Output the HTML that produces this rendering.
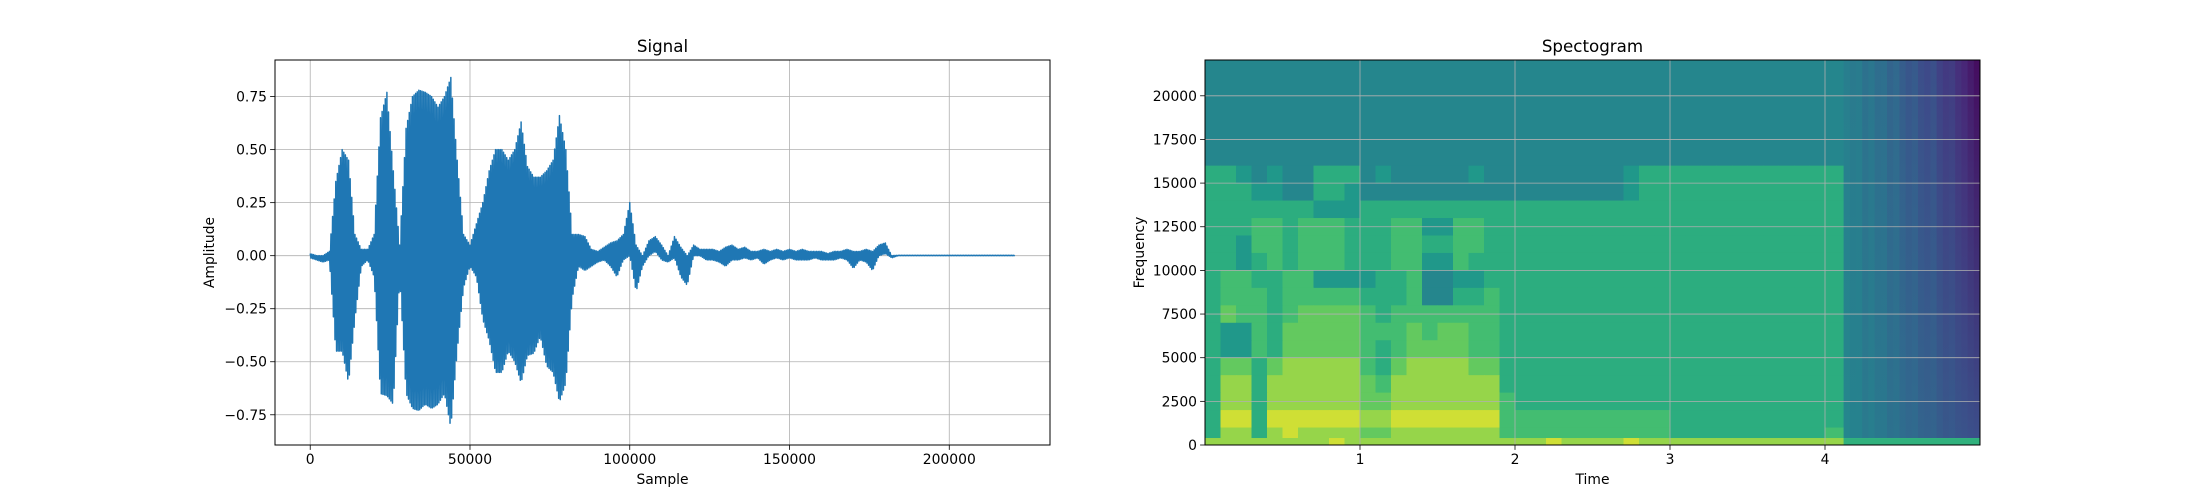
<!DOCTYPE html>
<html><head><meta charset="utf-8"><style>
html,body{margin:0;padding:0;background:#fff}
svg{display:block;font-family:"DejaVu Sans","Liberation Sans",sans-serif}
</style></head><body>
<svg id="fig" width="2200" height="500" viewBox="0 0 2200 500" xmlns="http://www.w3.org/2000/svg"></svg>
<script>
// ---------- Signal data (envelope every 2000 samples) ----------
const sigStep = 2000;
const sigUpper = [0.01,0.0,0.0,0.02,0.35,0.5,0.45,0.1,0.03,0.03,0.1,0.65,0.77,0.4,0.05,0.6,0.75,0.78,0.77,0.75,0.7,0.75,0.84,0.45,0.1,0.05,0.15,0.25,0.4,0.5,0.5,0.45,0.5,0.63,0.42,0.37,0.37,0.4,0.45,0.66,0.5,0.1,0.1,0.09,0.03,0.02,0.04,0.06,0.07,0.1,0.25,0.05,0.0,0.07,0.09,0.05,0.0,0.09,0.04,0.0,0.05,0.03,0.03,0.03,0.02,0.04,0.05,0.03,0.04,0.02,0.02,0.03,0.02,0.03,0.02,0.03,0.02,0.03,0.02,0.02,0.02,0.01,0.02,0.02,0.03,0.02,0.02,0.03,0.02,0.05,0.06,0.0,0.002,0.002,0.002,0.002,0.002,0.002,0.002,0.002,0.002,0.002,0.002,0.002,0.002,0.002,0.002,0.002,0.002,0.002,0.002];
const sigLower = [-0.01,-0.02,-0.03,-0.02,-0.45,-0.45,-0.6,-0.3,-0.05,-0.02,-0.1,-0.65,-0.66,-0.7,-0.1,-0.65,-0.72,-0.73,-0.7,-0.72,-0.7,-0.65,-0.81,-0.45,-0.15,-0.05,-0.1,-0.3,-0.4,-0.55,-0.55,-0.45,-0.5,-0.6,-0.47,-0.46,-0.38,-0.52,-0.55,-0.69,-0.6,-0.2,-0.05,-0.07,-0.05,-0.03,-0.02,-0.05,-0.1,-0.02,0.0,-0.17,-0.05,0.0,0.02,-0.02,-0.03,-0.01,-0.1,-0.14,0.0,0.0,-0.02,-0.02,-0.03,-0.05,-0.02,-0.02,-0.01,-0.02,-0.01,-0.04,-0.02,-0.01,-0.02,-0.01,-0.02,-0.02,-0.02,-0.01,-0.02,-0.02,-0.02,-0.01,-0.02,-0.06,-0.02,-0.03,-0.07,0.0,0.01,-0.01,0.0,0.0,0.0,0.0,0.0,0.0,0.0,0.0,0.0,0.0,0.0,0.0,0.0,0.0,0.0,0.0,0.0,0.0,0.0];
const sigXTicks = [0,50000,100000,150000,200000];
const sigYTicks = [-0.75,-0.5,-0.25,0,0.25,0.5,0.75];
const sigYLabels = ["\u22120.75","\u22120.50","\u22120.25","0.00","0.25","0.50","0.75"];

// ---------- Spectrogram data ----------
const specTimeEdges = [0,0.1,0.2,0.3,0.4,0.5,0.6,0.7,0.8,0.9,1.0,1.1,1.2,1.3,1.4,1.5,1.6,1.7,1.8,1.9,2.0,2.1,2.2,2.3,2.4,2.5,2.6,2.7,2.8,2.9,3.0,3.1,3.2,3.3,3.4,3.5,3.6,3.7,3.8,3.9,4.0,4.12];
const specFreqEdges = [22050,16000,15000,14000,13000,12000,11000,10000,9000,8000,7000,6000,5000,4000,3000,2000,1000,400,0];
const specRows = [
"33333333333333333333333333333333333333333",
"55434335553433333433333333345555555555555",
"55544335543333333333333333345555555555555",
"55555554445555555555555555555555555555555",
"55566566655566446655555555555555555555555",
"55466566655566556655555555555555555555555",
"55456566655566446555555555555555555555555",
"56655664444556334455555555555555555555555",
"56665666665556335565555555555555555555555",
"57665677776566666665555555555555555555555",
"54465777776667677665555555555555555555555",
"54465777776567777665555555555555555555555",
"57757888886578888775555555555555555555555",
"58858888887688888885555555555555555555555",
"58858888887788888886555555555555555555555",
"59959999998899999996666666666655555555555",
"58858988887788888886666666666655555555556",
"88888888988888888888889888898888888888888"
];
const levelFrac = [0.0,0.1,0.3,0.52,0.6,0.7,0.78,0.85,0.91,0.96];
const tailStart = 4.12, tailStep = 0.04;
const tailTop = [0.48,0.46,0.47,0.42,0.44,0.40,0.41,0.36,0.38,0.33,0.30,0.32,0.27,0.25,0.28,0.22,0.19,0.2,0.15,0.12,0.08,0.04];
const tailBottom = [0.52,0.5,0.5,0.46,0.48,0.45,0.45,0.42,0.43,0.40,0.38,0.39,0.36,0.35,0.36,0.33,0.31,0.32,0.3,0.29,0.28,0.27];
const tailFloor = 0.72;
const specXTicks = [1,2,3,4];
const specYTicks = [0,2500,5000,7500,10000,12500,15000,17500,20000];

// ---------- helpers ----------
const NS="http://www.w3.org/2000/svg";
const svg=document.getElementById('fig');
function mk(tag,attrs,parent){const e=document.createElementNS(NS,tag);for(const k in attrs)e.setAttribute(k,attrs[k]);(parent||svg).appendChild(e);return e;}
const vir=[[68,1,84],[72,40,120],[62,73,137],[49,104,142],[38,130,142],[31,158,137],[53,183,121],[110,206,88],[253,231,37]];
function viridis(t){t=Math.max(0,Math.min(1,t));const p=t*8,i=Math.min(7,Math.floor(p)),f=p-i;const a=vir[i],b=vir[i+1];return 'rgb('+a.map((v,k)=>Math.round(v+(b[k]-v)*f)).join(',')+')';}

const axTop=60,axBot=445;
// ======== Signal axes ========
const A={x0:275,x1:1050};
const sxMin=-11025,sxMax=231525,syMin=-0.8925,syMax=0.9225;
const sx=v=>A.x0+(v-sxMin)/(sxMax-sxMin)*(A.x1-A.x0);
const sy=v=>axBot-(v-syMin)/(syMax-syMin)*(axBot-axTop);
const g1=mk('g',{});


mk('rect',{x:A.x0,y:axTop,width:A.x1-A.x0,height:axBot-axTop,fill:'#fff'},g1);
sigXTicks.forEach(v=>{const l=mk('line',{x1:sx(v),x2:sx(v),y1:axTop,y2:axBot,stroke:'#b0b0b0','stroke-width':0.8},g1);});
sigYTicks.forEach(v=>{const l=mk('line',{x1:A.x0,x2:A.x1,y1:sy(v),y2:sy(v),stroke:'#b0b0b0','stroke-width':0.8},g1);});
// waveform
let d='';const K=8;
for(let i=0;i<sigUpper.length;i++){
  const nU=i+1<sigUpper.length?sigUpper[i+1]:sigUpper[i];
  const nL=i+1<sigLower.length?sigLower[i+1]:sigLower[i];
  for(let k=0;k<K;k++){
    const f=k/K, s=i*sigStep+f*sigStep;
    if(s>220500)break;
    const u=sigUpper[i]+(nU-sigUpper[i])*f, lo=sigLower[i]+(nL-sigLower[i])*f;
    const v=(k%2===0)?u:lo;
    d+=(d?'L':'M')+sx(s).toFixed(2)+' '+sy(v).toFixed(2);
  }
}
d+='L'+sx(220500).toFixed(2)+' '+sy(0.002).toFixed(2);
const wave=mk('path',{d:d,fill:'none',stroke:'#1f77b4','stroke-width':1.5,'stroke-linejoin':'round'},g1);


mk('rect',{x:A.x0,y:axTop,width:A.x1-A.x0,height:axBot-axTop,fill:'none',stroke:'#000','stroke-width':1},g1);
sigXTicks.forEach(v=>{mk('line',{x1:sx(v),x2:sx(v),y1:axBot,y2:axBot+4.9,stroke:'#000','stroke-width':0.8},g1);
  const t=mk('text',{x:sx(v),y:axBot+19,'text-anchor':'middle','font-size':13.9},g1);t.textContent=String(v);
  });
sigYTicks.forEach((v,i)=>{mk('line',{x1:A.x0-4.9,x2:A.x0,y1:sy(v),y2:sy(v),stroke:'#000','stroke-width':0.8},g1);
  const t=mk('text',{x:A.x0-8,y:sy(v)+5,'text-anchor':'end','font-size':13.9},g1);t.textContent=sigYLabels[i];
  });
let tt=mk('text',{x:(A.x0+A.x1)/2,y:52,'text-anchor':'middle','font-size':16.7},g1);tt.textContent='Signal';

tt=mk('text',{x:(A.x0+A.x1)/2,y:484,'text-anchor':'middle','font-size':13.9},g1);tt.textContent='Sample';

tt=mk('text',{x:0,y:0,'text-anchor':'middle','font-size':13.9,transform:'translate(214,'+((axTop+axBot)/2)+') rotate(-90)'},g1);tt.textContent='Amplitude';


// ======== Spectrogram axes ========
const B={x0:1205,x1:1980};
const txMax=5.0,fyMax=22050;
const tx=v=>B.x0+v/txMax*(B.x1-B.x0);
const fy=v=>axBot-v/fyMax*(axBot-axTop);
const g2=mk('g',{});


for(let r=0;r<specRows.length;r++){
  const yT=fy(specFreqEdges[r]),yB=fy(specFreqEdges[r+1]);
  for(let c=0;c<specTimeEdges.length-1;c++){
    const lv=+specRows[r][c];
    const x0=tx(specTimeEdges[c]),x1=tx(specTimeEdges[c+1]);
    const cell=mk('rect',{x:x0,y:yT,width:x1-x0+0.5,height:yB-yT+0.5,fill:viridis(levelFrac[lv])},g2);
    
    
  }
}
const defs=mk('defs',{},g2);
tailTop.forEach((v,i)=>{
  const gid='tg'+i;
  const lg=mk('linearGradient',{id:gid,x1:0,y1:0,x2:0,y2:1},defs);
  mk('stop',{offset:0,'stop-color':viridis(v)},lg);
  mk('stop',{offset:1,'stop-color':viridis(tailBottom[i])},lg);
  const x0=tx(tailStart+i*tailStep),x1=tx(Math.min(txMax,tailStart+(i+1)*tailStep));
  const col=mk('rect',{x:x0,y:axTop,width:x1-x0+0.4,height:fy(400)-axTop,fill:'url(#'+gid+')'},g2);
  
  
});
const fl=mk('rect',{x:tx(tailStart),y:fy(400),width:B.x1-tx(tailStart),height:axBot-fy(400),fill:viridis(tailFloor)},g2);


specXTicks.forEach(v=>{const l=mk('line',{x1:tx(v),x2:tx(v),y1:axTop,y2:axBot,stroke:'#b0b0b0','stroke-width':0.8},g2);});
specYTicks.forEach(v=>{const l=mk('line',{x1:B.x0,x2:B.x1,y1:fy(v),y2:fy(v),stroke:'#b0b0b0','stroke-width':0.8},g2);});
mk('rect',{x:B.x0,y:axTop,width:B.x1-B.x0,height:axBot-axTop,fill:'none',stroke:'#000','stroke-width':1},g2);
specXTicks.forEach(v=>{mk('line',{x1:tx(v),x2:tx(v),y1:axBot,y2:axBot+4.9,stroke:'#000','stroke-width':0.8},g2);
  const t=mk('text',{x:tx(v),y:axBot+19,'text-anchor':'middle','font-size':13.9},g2);t.textContent=String(v);
  });
specYTicks.forEach(v=>{mk('line',{x1:B.x0-4.9,x2:B.x0,y1:fy(v),y2:fy(v),stroke:'#000','stroke-width':0.8},g2);
  const t=mk('text',{x:B.x0-8,y:fy(v)+5,'text-anchor':'end','font-size':13.9},g2);t.textContent=String(v);
  });
tt=mk('text',{x:(B.x0+B.x1)/2,y:52,'text-anchor':'middle','font-size':16.7},g2);tt.textContent='Spectogram';

tt=mk('text',{x:(B.x0+B.x1)/2,y:484,'text-anchor':'middle','font-size':13.9},g2);tt.textContent='Time';

tt=mk('text',{x:0,y:0,'text-anchor':'middle','font-size':13.9,transform:'translate(1144,'+((axTop+axBot)/2)+') rotate(-90)'},g2);tt.textContent='Frequency';

</script>
</body></html>
